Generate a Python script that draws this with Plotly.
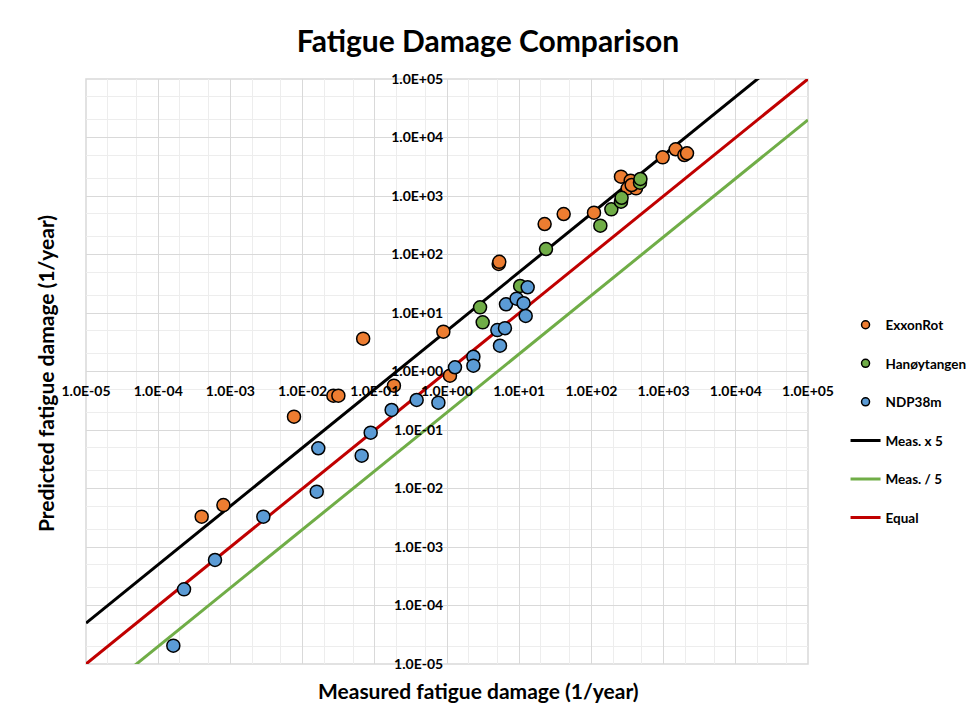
import plotly.graph_objects as go

# ---- data ----
exxon_x = [4.0e-4, 8.0e-4, 7.6e-3, 0.0267, 0.0313, 0.069, 0.184, 0.89, 1.1, 5.2, 5.3,
           22.5, 41.3, 108.6, 257, 350, 318, 415, 361, 971, 1469, 1936, 2110]
exxon_y = [3.3e-3, 5.2e-3, 0.169, 0.386, 0.386, 3.64, 0.573, 4.8, 0.85, 69, 75,
           332, 492, 519, 2138, 1827, 1352, 1352, 1542, 4584, 6285, 5020, 5370]

hanoy_x = [2.87, 3.12, 10.3, 23.5, 133, 189, 257, 262, 471, 478]
hanoy_y = [12.5, 6.93, 29, 124, 311, 592, 800, 933, 1690, 1954]

ndp_x = [1.62e-4, 2.28e-4, 6.12e-4, 2.86e-3, 0.0157, 0.0165, 0.0658, 0.0877, 0.171, 0.38,
         0.76, 1.29, 2.32, 2.32, 4.98, 5.42, 6.35, 6.56, 9.2, 11.5, 12.3, 13.1]
ndp_y = [2.06e-5, 1.89e-4, 6.0e-4, 3.3e-3, 8.83e-3, 0.0487, 0.0364, 0.09, 0.22, 0.326,
         0.293, 1.18, 1.79, 1.26, 5.1, 2.76, 5.5, 14.1, 17.6, 14.7, 8.9, 27.5]

line_x = [1e-5, 1e5]
factors = {"Meas. x 5": 5.0, "Meas. / 5": 0.2, "Equal": 1.0}
line_colors = {"Meas. x 5": "#000000", "Meas. / 5": "#70AD47", "Equal": "#C00000"}

tick_vals = [1e-5, 1e-4, 1e-3, 1e-2, 1e-1, 1e0, 1e1, 1e2, 1e3, 1e4, 1e5]
tick_text = ["1.0E-05", "1.0E-04", "1.0E-03", "1.0E-02", "1.0E-01", "1.0E+00",
             "1.0E+01", "1.0E+02", "1.0E+03", "1.0E+04", "1.0E+05"]

FONT = "Lato"

fig = go.Figure()

# lines first (drawn beneath the markers), legend order via legendrank
for i, (name, f) in enumerate(factors.items()):
    fig.add_trace(go.Scatter(
        x=line_x, y=[v * f for v in line_x], mode="lines", name=name,
        line=dict(color=line_colors[name], width=3),
        legendrank=10 + i, legendgroup=name, hoverinfo="skip"))

series = [("ExxonRot", exxon_x, exxon_y, "#ED7D31"),
          ("Hanøytangen", hanoy_x, hanoy_y, "#70AD47"),
          ("NDP38m", ndp_x, ndp_y, "#5B9BD5")]

for i, (name, xs, ys, col) in enumerate(series):
    fig.add_trace(go.Scatter(
        x=xs, y=ys, mode="markers", name=name, showlegend=False,
        marker=dict(color=col, size=13, line=dict(color="#000000", width=1.5)),
        legendgroup=name))
    # legend-only entry with the small legend symbol
    fig.add_trace(go.Scatter(
        x=[None], y=[None], mode="markers", name=name,
        marker=dict(color=col, size=8, line=dict(color="#000000", width=1.5)),
        legendrank=1 + i, legendgroup=name, hoverinfo="skip"))

axis_common = dict(
    type="log", range=[-5, 5], tickvals=tick_vals, ticktext=tick_text,
    showgrid=True, gridcolor="#D9D9D9", gridwidth=1,
    minor=dict(showgrid=True, gridcolor="#EDEDED", gridwidth=1),
    zeroline=False, showline=False, anchor="free", position=0.5,
    automargin=False,
    tickfont=dict(family=FONT, size=14, color="#000000", weight="bold"),
    ticks="outside", tickcolor="rgba(0,0,0,0)",
)

fig.update_layout(
    width=976, height=709,
    margin=dict(l=86, r=168, t=79, b=45, autoexpand=False),
    paper_bgcolor="white", plot_bgcolor="white",
    title=dict(text="<b>Fatigue Damage Comparison</b>", x=0.5, xanchor="center",
               y=0.942, yanchor="middle",
               font=dict(family=FONT, size=30, color="#000000")),
    xaxis=dict(**axis_common, ticklen=7),
    yaxis=dict(**axis_common, ticklen=1),
    showlegend=True,
    legend=dict(x=1.052, y=0.606, xanchor="left", yanchor="top",
                font=dict(family=FONT, size=13.5, color="#000000", weight="bold"),
                tracegroupgap=18, itemsizing="trace", bgcolor="rgba(0,0,0,0)"),
    annotations=[
        dict(text="<b>Measured fatigue damage (1/year)</b>", xref="paper", yref="paper",
             x=0.543, y=-0.045, xanchor="center", yanchor="middle", showarrow=False,
             font=dict(family=FONT, size=21, color="#000000")),
        dict(text="<b>Predicted fatigue damage (1/year)</b>", xref="paper", yref="paper",
             x=-0.057, y=0.497, xanchor="center", yanchor="middle", textangle=-90,
             showarrow=False, font=dict(family=FONT, size=21, color="#000000")),
    ],
    shapes=[dict(type="rect", xref="paper", yref="paper", x0=0, y0=0, x1=1, y1=1,
                 line=dict(color="#D9D9D9", width=1.5), layer="below")],
)

fig.write_html("out.html",
               config={"displayModeBar": False},
               post_script="document.body.style.margin='0';document.body.style.overflow='hidden';")
